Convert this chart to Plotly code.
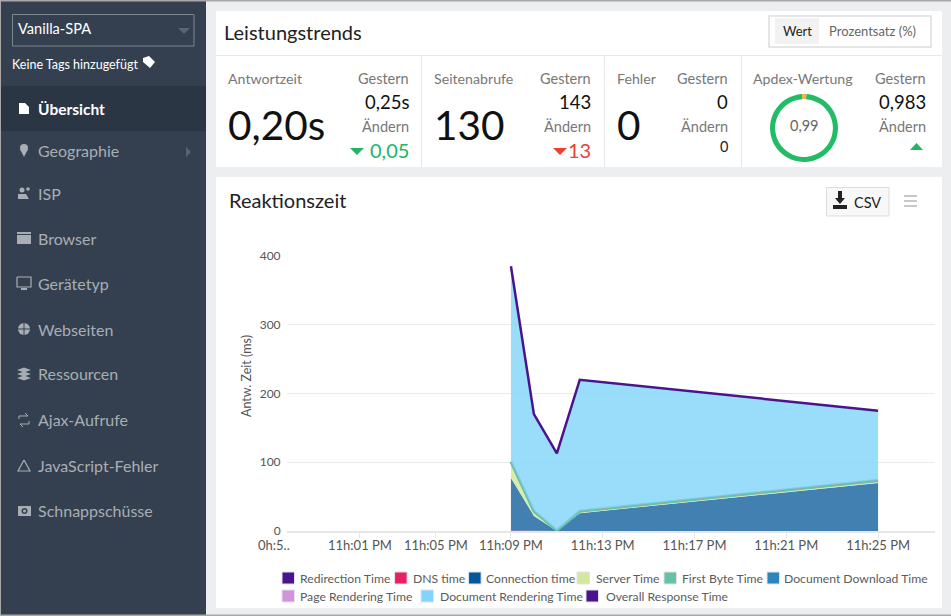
import plotly.graph_objects as go

W, H = 951, 616
FONT = "Lato"

# chart data, minutes counted from 11h:09 PM
minutes = [0, 1, 2, 3, 16]
series_names = ["Redirection Time", "DNS time", "Connection time", "Server Time", "First Byte Time",
                "Document Download Time", "Page Rendering Time", "Document Rendering Time",
                "Overall Response Time"]
redirection = [1, 0, 0, 0, 0]
dns = [0, 0, 0, 0, 0]
connection = [76, 22, 0, 26, 70]
server = [20, 4, 0, 1, 1]
first_byte = [4, 3, 1, 2, 3]
download = [0, 0, 0, 0, 0]
page_rendering = [0.5, 0.5, 0, 0.5, 0.5]
doc_rendering = [283.5, 140.5, 112, 190.5, 100.5]
overall = [385, 170, 113, 220, 175]

y_ticks = [0, 100, 200, 300, 400]
x_tick_labels = ["11h:01 PM", "11h:05 PM", "11h:09 PM", "11h:13 PM", "11h:17 PM", "11h:21 PM", "11h:25 PM"]
x_tick_vals = [-6.58, -3.27, 0, 4, 8, 12, 16]
apdex = [0.98, 0.02]

menu_items = ["Übersicht", "Geographie", "ISP", "Browser", "Gerätetyp", "Webseiten",
              "Ressourcen", "Ajax-Aufrufe", "JavaScript-Fehler", "Schnappschüsse"]

legend_colors = ["#4a148c", "#e91e63", "#01579b", "#d4e79e", "#66c2a5", "#2e86c1", "#d093dc", "#81d4fa", "#4a148c"]
fill_colors = ["rgba(74,20,140,0.75)", "rgba(233,30,99,0.75)", "rgba(1,85,151,0.75)", "rgba(212,231,158,0.85)",
               "rgba(102,194,165,0.9)", "rgba(46,134,193,0.75)", "rgba(208,147,220,0.75)", "rgba(129,212,250,0.8)"]

# pixel helpers, all the dashboard chrome is placed in picture pixels
def px(x):
    return x / W

def py(y):
    return 1 - y / H

shapes = []
annotations = []

def rect(x0, y0, x1, y1, fill, line=None, width=1):
    shapes.append(dict(type="rect", xref="paper", yref="paper", x0=px(x0), x1=px(x1), y0=py(y0), y1=py(y1),
                       fillcolor=fill, line=dict(color=line or fill, width=width if line else 0), layer="below"))

def icon(points, fill=None, line=None, width=1):
    # small polygon/polyline in picture pixels
    d = "M" + " L".join(f"{px(x):.5f},{py(y):.5f}" for x, y in points)
    if fill:
        d += " Z"
    shapes.append(dict(type="path", xref="paper", yref="paper", path=d, fillcolor=fill or "rgba(0,0,0,0)",
                       line=dict(color=line or fill, width=width if line else 0), layer="above"))

def dot(cx, cy, r, fill=None, line=None, width=1):
    shapes.append(dict(type="circle", xref="paper", yref="paper", x0=px(cx - r), x1=px(cx + r), y0=py(cy + r), y1=py(cy - r),
                       fillcolor=fill or "rgba(0,0,0,0)", line=dict(color=line or fill, width=width if line else 0), layer="above"))

def text(x, y, s, size=14, color="#777777", anchor="left", family=FONT, angle=0):
    annotations.append(dict(xref="paper", yref="paper", x=px(x), y=py(y), text=s, showarrow=False, xanchor=anchor,
                            yanchor="middle", textangle=angle, font=dict(size=size, color=color, family=family),
                            borderpad=0, borderwidth=0))

# page background and sidebar
rect(0, 0, W, H, "#eceef0")
rect(0, 0, 206, H, "#34404f")
rect(0, 0, W, 1.5, "#a8a8a8")
rect(0, 0, 1, H, "#a8a8a8")
rect(0, 614.5, W, H, "#a8a8a8")
rect(1, 86, 206, 131, "#2a3644")
rect(12.5, 14.5, 194, 46, "#34404f", "#7c858e", 1)
text(18, 29, "Vanilla-SPA", 14.6, "#ffffff")
icon([(178, 28), (190, 28), (184, 34)], fill="#596473")
text(12, 64, "Keine Tags hinzugefügt", 12.5, "#ffffff")
icon([(143, 58), (149, 56), (155, 62), (150, 68), (143, 62)], fill="#ffffff")

menu_y = [109, 151, 193, 238, 283, 329, 374, 419, 465, 510]
for name, y in zip(menu_items, menu_y):
    if name == "Übersicht":
        text(38, y, "<b>" + name + "</b>", 15.5, "#ffffff")
    else:
        text(38, y, name, 16, "#a9aeb4")
icon([(186, 147), (191, 152), (186, 157)], fill="#596473")

c = "#a9aeb4"
icon([(19, 103), (25, 103), (29, 107), (29, 114), (19, 114)], fill="#ffffff")
dot(24, 148, 4, fill=c)
icon([(20.5, 150), (27.5, 150), (24, 157)], fill=c)
dot(22, 190, 2.5, fill=c)
icon([(18, 199), (18, 194), (26, 194), (29, 199)], fill=c)
dot(28, 189, 1.8, fill=c)
rect(17, 232, 31, 244, "#a9aeb4")
icon([(17, 234.5), (31, 234.5)], line="#34404f")
icon([(17, 277), (31, 277), (31, 287), (17, 287), (17, 277)], line=c, width=1.2)
icon([(21, 289), (27, 289)], line=c, width=2)
dot(24, 329, 6, fill=c)
icon([(18, 329), (30, 329)], line="#34404f")
icon([(24, 323), (24, 335)], line="#34404f")
for dy in (370, 374, 378):
    icon([(17, dy), (24, dy - 2.5), (31, dy), (24, dy + 2.5)], fill=c)
icon([(19, 419), (19, 416), (28, 416), (25, 413)], line=c, width=1)
icon([(29, 421), (29, 424), (20, 424), (23, 427)], line=c, width=1)
icon([(24, 460), (30, 471), (18, 471), (24, 460)], line=c, width=1.2)
rect(18, 506, 31, 516, "#a9aeb4")
dot(24.5, 511, 3, fill="#34404f")
dot(24.5, 511, 1.5, fill=c)

# white panels
rect(216, 11, 942, 167, "#ffffff")
rect(216, 177, 942, 608, "#ffffff")
rect(216, 55, 942, 56, "#e8e8e8")
for x in (421, 604, 741):
    rect(x, 56, x + 1, 167, "#e8e8e8")

text(224, 32, "Leistungstrends", 20, "#222222")
text(229, 200, "Reaktionszeit", 20, "#222222")

# value / percent switch
rect(769, 16, 931, 47, "#ffffff", "#dddddd", 1.5)
rect(775, 18, 819, 44, "#f2f2f2")
text(797, 31, "Wert", 13, "#222222", "center")
text(872, 31, "Prozentsatz (%)", 13, "#666666", "center")

# csv button and burger
rect(826.5, 187.5, 889, 216, "#f8f8f8", "#dddddd", 1)
text(854, 202, "CSV", 14.5, "#222222")
icon([(838, 191), (842, 191), (842, 198), (845, 198), (840, 204), (835, 198), (838, 198)], fill="#222222")
rect(833, 205, 847, 209, "#222222")
for y in (196, 201, 206):
    rect(904, y - 1, 917, y + 1, "#c8c8c8")

# KPI block: response time
text(228, 78, "Antwortzeit", 14.2)
text(228, 124, "0,20s", 40.5, "#111111")
text(409, 78, "Gestern", 14.5, anchor="right")
text(409, 102, "0,25s", 18.5, "#111111", "right")
text(409, 126, "Ändern", 14.5, anchor="right")
text(409, 150, "0,05", 20, "#21b662", "right")
icon([(350, 148), (364, 148), (357, 155)], fill="#21b662")

# KPI block: page views
text(434, 78, "Seitenabrufe", 14.2)
text(434, 124, "130", 40.5, "#111111")
text(591, 78, "Gestern", 14.5, anchor="right")
text(591, 102, "143", 18.5, "#111111", "right")
text(591, 126, "Ändern", 14.5, anchor="right")
text(591, 150, "13", 20, "#ee4035", "right")
icon([(553, 148), (567, 148), (560, 155)], fill="#ee4035")

# KPI block: errors
text(617, 78, "Fehler", 14.2)
text(617, 124, "0", 40.5, "#111111")
text(728, 78, "Gestern", 14.5, anchor="right")
text(728, 102, "0", 18.5, "#111111", "right")
text(728, 126, "Ändern", 14.5, anchor="right")
text(728, 146, "0", 14.5, "#222222", "right")

# KPI block: apdex
text(753, 78, "Apdex-Wertung", 14.2)
text(804, 125, "0,99", 14.5, "#666666", "center")
text(926, 78, "Gestern", 14.5, anchor="right")
text(926, 102, "0,983", 18.5, "#111111", "right")
text(926, 126, "Ändern", 14.5, anchor="right")
icon([(910, 150), (923, 150), (916.5, 143)], fill="#21b662")

# legend, same flow as the original two rows
swatch_x = [282, 394.6, 468.6, 577, 664, 767, 282, 421, 586]
label_x = [300, 413, 486, 595.5, 682, 784, 300, 440, 606]
rows_y = [578, 578, 578, 578, 578, 578, 596, 596, 596]
for name, col, sx, lx, ry in zip(series_names, legend_colors, swatch_x, label_x, rows_y):
    rect(sx, ry - 6, sx + 12.5, ry + 6, col, "#e4e0ee", 1)
    text(lx, ry, name, 12.2, "#5c5c5c")

# cut off first tick label on the left edge
text(274, 545, "0h:5..", 13, "#555555", "center")
text(246, 376, "Antw. Zeit (ms)", 12.5, "#555555", "center", angle=-90)

fig = go.Figure()

stack_values = [redirection, dns, connection, server, first_byte, download, page_rendering, doc_rendering]
for i, vals in enumerate(stack_values):
    name = series_names[i]
    is_first_byte = name == "First Byte Time"
    fig.add_trace(go.Scatter(
        x=minutes, y=vals, name=name, mode="lines", stackgroup="one",
        fillcolor=fill_colors[i],
        line=dict(color=legend_colors[i], width=3 if is_first_byte else 0),
        showlegend=False,
    ))

fig.add_trace(go.Scatter(x=minutes, y=overall, name=series_names[8], mode="lines",
                         line=dict(color="#4a148c", width=2.5), showlegend=False))

# donut for the apdex score
fig.add_trace(go.Pie(values=apdex, hole=0.85, sort=False, direction="clockwise", rotation=4,
                     marker=dict(colors=["#22bb66", "#f2b632"], line=dict(width=0)),
                     textinfo="none", showlegend=False,
                     domain=dict(x=[px(770), px(838)], y=[py(162), py(94)])))

fig.update_layout(
    width=W, height=H, autosize=False,
    margin=dict(l=0, r=0, t=0, b=0, autoexpand=False),
    paper_bgcolor="#eceef0", plot_bgcolor="rgba(0,0,0,0)",
    showlegend=False,
    font=dict(family=FONT, size=12, color="#555555"),
    shapes=shapes, annotations=annotations,
    xaxis=dict(domain=[px(287), px(935)], range=[-9.76, 18.48], tickmode="array",
               tickvals=x_tick_vals, ticktext=x_tick_labels, showgrid=False, zeroline=False,
               showline=True, linecolor="#e6e6e6", linewidth=2, ticks="outside", ticklen=5,
               tickcolor="#e6e6e6", ticklabelstandoff=-4,
               tickfont=dict(size=13, color="#555555", family=FONT)),
    yaxis=dict(domain=[py(531), py(256)], range=[0, 400], tickmode="array", tickvals=y_ticks,
               showgrid=True, gridcolor="#e9e9e9", gridwidth=1, zeroline=False,
               ticks="outside", ticklen=3, tickcolor="rgba(0,0,0,0)",
               tickfont=dict(size=12, color="#555555", family=FONT)),
)

fig.write_html("out.html", config={"displayModeBar": False},
               post_script="document.body.style.margin='0';")
